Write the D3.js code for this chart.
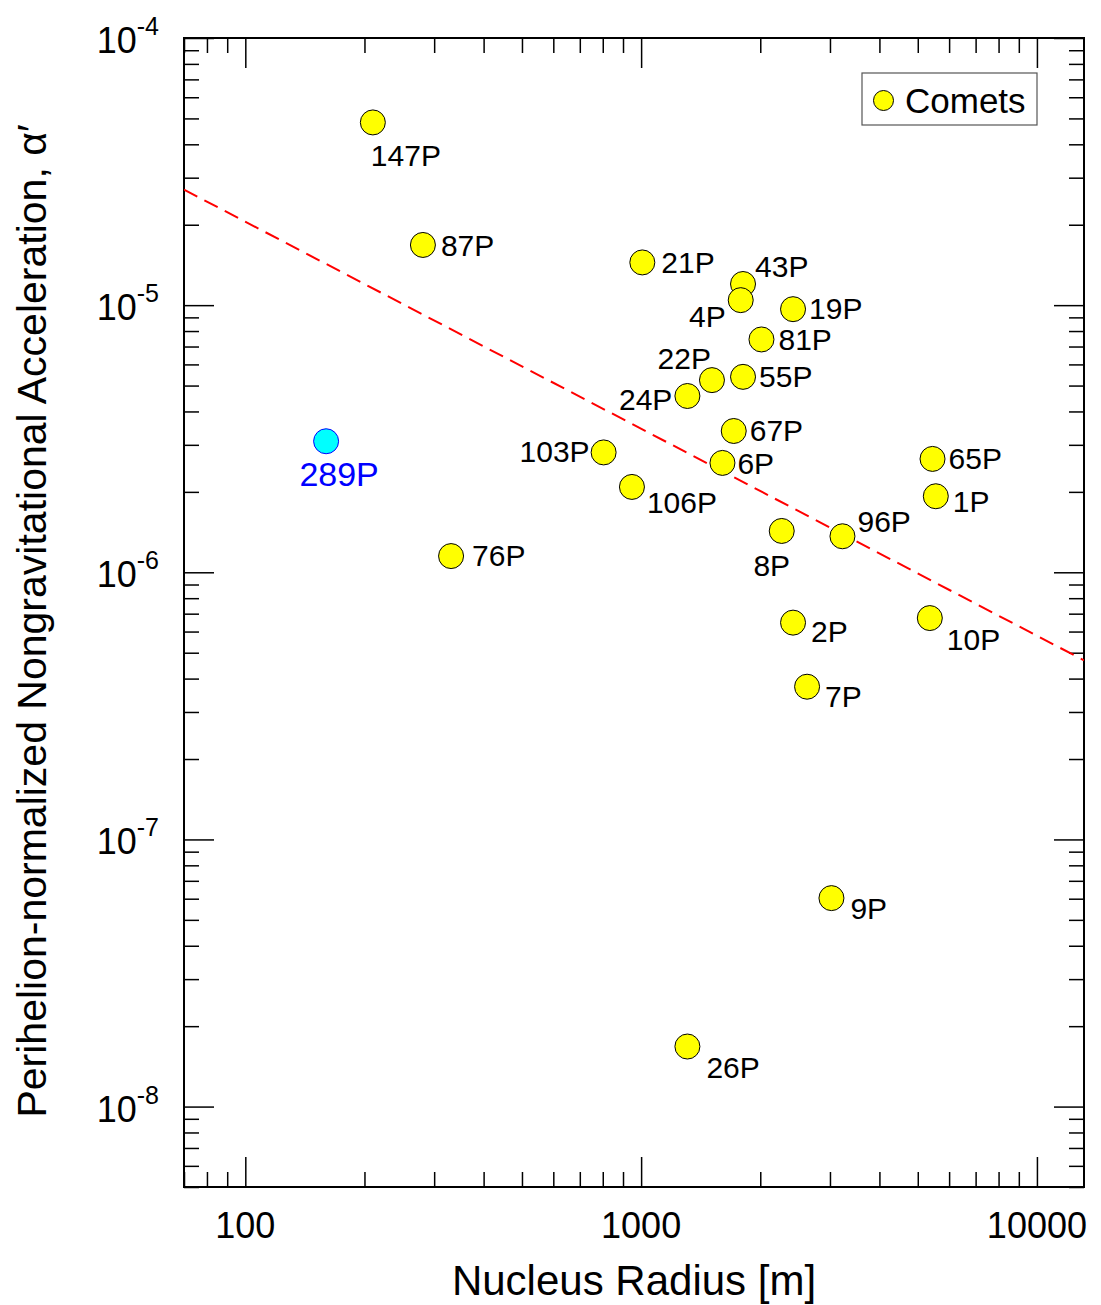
<!DOCTYPE html>
<html>
<head>
<meta charset="utf-8">
<script src="https://cdn.jsdelivr.net/npm/d3@7"></script>
<style>
body { margin: 0; background: #fff; }
text { font-family: "Liberation Sans", Arial, Helvetica, sans-serif; fill: #000; }
</style>
</head>
<body>
<svg id="chart"></svg>
<script>
var width = 1101, height = 1305;

// comets (yellow)
var cometNames  = ["147P", "87P", "76P", "21P", "43P", "4P", "19P", "81P", "22P", "55P", "24P", "67P",
                   "103P", "6P", "106P", "65P", "1P", "96P", "8P", "2P", "10P", "7P", "9P", "26P"];
var cometRadius = [210, 281, 331, 1007, 1809, 1785, 2420, 2014, 1510, 1809, 1309, 1714,
                   804, 1605, 948, 5448, 5553, 3226, 2266, 2420, 5363, 2626, 3026, 1309];
var cometAccel  = [4.83e-5, 1.68e-5, 1.15e-6, 1.445e-5, 1.20e-5, 1.044e-5, 9.66e-6, 7.44e-6, 5.24e-6, 5.39e-6, 4.57e-6, 3.38e-6,
                   2.81e-6, 2.567e-6, 2.087e-6, 2.657e-6, 1.926e-6, 1.364e-6, 1.428e-6, 6.48e-7, 6.74e-7, 3.73e-7, 6.03e-8, 1.678e-8];

// 289P (highlighted)
var specialNames  = ["289P"];
var specialRadius = [160];
var specialAccel  = [3.094e-6];

// power-law fit: alpha = fitAt1000 * (R / 1000) ^ fitSlope
var fitAt1000 = 3.447e-6, fitSlope = -0.775;

var xMajor = [100, 1000, 10000];
var yExponents = [-4, -5, -6, -7, -8];

// label placement [anchor, dx, dy]
var labelPos = {
  "147P": ["start", -2, 44], "87P": ["start", 18, 11], "76P": ["start", 21, 10],
  "21P": ["start", 19, 11], "43P": ["start", 12, -7], "4P": ["end", -15, 27],
  "19P": ["start", 16, 10], "81P": ["start", 17, 11], "22P": ["end", -1, -11],
  "55P": ["start", 16, 10], "24P": ["end", -15, 14], "67P": ["start", 16, 10],
  "103P": ["end", -14, 10], "6P": ["start", 15, 11], "106P": ["start", 15, 26],
  "65P": ["start", 16, 10], "1P": ["start", 17, 16], "96P": ["start", 15, -4],
  "8P": ["middle", -10, 45], "2P": ["start", 18, 19], "10P": ["start", 17, 32],
  "7P": ["start", 18, 20], "9P": ["start", 19, 21], "26P": ["start", 19, 31],
  "289P": ["middle", 13, 45]
};

var plotL = 184, plotR = 1084, plotT = 38, plotB = 1187;

var svg = d3.select("#chart")
  .attr("width", width)
  .attr("height", height);

var x = d3.scaleLog().domain([70, 13150]).range([plotL, plotR]);
var y = d3.scaleLog().domain([5e-9, 1e-4]).range([plotB, plotT]);

// minor tick values
var xMinor = [], yMinor = [];
for (var d = 1; d <= 4; d++) {
  for (var k = 2; k <= 9; k++) {
    var v = k * Math.pow(10, d);
    if (v >= 70 && v <= 13150) xMinor.push(v);
  }
}
for (var e = -9; e <= -5; e++) {
  for (var k = 2; k <= 9; k++) {
    var v = k * Math.pow(10, e);
    if (v >= 5e-9 && v <= 1e-4) yMinor.push(v);
  }
}

function drawTicks(axis, tx, ty) {
  var g = svg.append("g").attr("transform", "translate(" + tx + "," + ty + ")").call(axis);
  g.select(".domain").remove();
  g.selectAll("text").remove();
  g.selectAll("line").attr("stroke", "#000").attr("stroke-width", 1.5);
}

[[xMajor, 30], [xMinor, 15]].forEach(function(t) {
  drawTicks(d3.axisTop(x).tickValues(t[0]).tickSize(t[1]).tickFormat(""), 0, plotB);
  drawTicks(d3.axisBottom(x).tickValues(t[0]).tickSize(t[1]).tickFormat(""), 0, plotT);
});
var yMajor = yExponents.map(function(p) { return Math.pow(10, p); });
[[yMajor, 30], [yMinor, 15]].forEach(function(t) {
  drawTicks(d3.axisRight(y).tickValues(t[0]).tickSize(t[1]).tickFormat(""), plotL, 0);
  drawTicks(d3.axisLeft(y).tickValues(t[0]).tickSize(t[1]).tickFormat(""), plotR, 0);
});

// frame
svg.append("rect")
  .attr("x", plotL).attr("y", plotT)
  .attr("width", plotR - plotL).attr("height", plotB - plotT)
  .attr("fill", "none").attr("stroke", "#000").attr("stroke-width", 2);

// x tick labels
svg.selectAll(".xlab")
  .data(xMajor)
  .enter().append("text")
  .attr("class", "xlab")
  .attr("x", function(d) { return x(d); })
  .attr("y", plotB + 51)
  .attr("text-anchor", "middle")
  .style("font-size", "36px")
  .text(function(d) { return d; });

// y tick labels 10^n
var ylab = svg.selectAll(".ylab")
  .data(yExponents)
  .enter().append("text")
  .attr("class", "ylab")
  .attr("x", 159)
  .attr("y", function(p) { return y(Math.pow(10, p)) + 15; })
  .attr("text-anchor", "end");
ylab.append("tspan").style("font-size", "36px").text("10");
ylab.append("tspan").style("font-size", "25px").attr("dy", -18).text(function(p) { return p; });

// axis titles
svg.append("text")
  .attr("x", (plotL + plotR) / 2)
  .attr("y", 1295)
  .attr("text-anchor", "middle")
  .style("font-size", "42px")
  .text("Nucleus Radius [m]");

svg.append("text")
  .attr("transform", "translate(46," + 621 + ") rotate(-90)")
  .attr("text-anchor", "middle")
  .style("font-size", "41px")
  .text("Perihelion-normalized Nongravitational Acceleration, α′");

// clip
svg.append("clipPath").attr("id", "plotclip")
  .append("rect").attr("x", plotL).attr("y", plotT)
  .attr("width", plotR - plotL).attr("height", plotB - plotT);

// fit line
var fitLine = d3.line()
  .x(function(r) { return x(r); })
  .y(function(r) { return y(fitAt1000 * Math.pow(r / 1000, fitSlope)); });
svg.append("path")
  .datum(x.domain())
  .attr("clip-path", "url(#plotclip)")
  .attr("d", fitLine)
  .attr("fill", "none")
  .attr("stroke", "#ff0000")
  .attr("stroke-width", 2)
  .attr("stroke-dasharray", "15,8");

// data
var comets = cometNames.map(function(n, i) { return { name: n, r: cometRadius[i], a: cometAccel[i] }; });
var special = specialNames.map(function(n, i) { return { name: n, r: specialRadius[i], a: specialAccel[i] }; });

svg.selectAll(".comet")
  .data(comets)
  .enter().append("circle")
  .attr("class", "comet")
  .attr("cx", function(d) { return x(d.r); })
  .attr("cy", function(d) { return y(d.a); })
  .attr("r", 12.5)
  .attr("fill", "#ffff00")
  .attr("stroke", "#000")
  .attr("stroke-width", 1);

svg.selectAll(".clab")
  .data(comets)
  .enter().append("text")
  .attr("class", "clab")
  .attr("x", function(d) { return x(d.r) + labelPos[d.name][1]; })
  .attr("y", function(d) { return y(d.a) + labelPos[d.name][2]; })
  .attr("text-anchor", function(d) { return labelPos[d.name][0]; })
  .style("font-size", "30px")
  .text(function(d) { return d.name; });

svg.selectAll(".special")
  .data(special)
  .enter().append("circle")
  .attr("class", "special")
  .attr("cx", function(d) { return x(d.r); })
  .attr("cy", function(d) { return y(d.a); })
  .attr("r", 12.5)
  .attr("fill", "#00ffff")
  .attr("stroke", "#0000ff")
  .attr("stroke-width", 1);

svg.selectAll(".slab")
  .data(special)
  .enter().append("text")
  .attr("class", "slab")
  .attr("x", function(d) { return x(d.r) + labelPos[d.name][1]; })
  .attr("y", function(d) { return y(d.a) + labelPos[d.name][2]; })
  .attr("text-anchor", function(d) { return labelPos[d.name][0]; })
  .style("font-size", "34px")
  .style("fill", "#0000ff")
  .text(function(d) { return d.name; });

// legend
var lg = svg.append("g");
lg.append("rect")
  .attr("x", 862).attr("y", 73).attr("width", 175).attr("height", 52)
  .attr("fill", "#fff").attr("stroke", "#555").attr("stroke-width", 1.2);
lg.append("circle")
  .attr("cx", 883.5).attr("cy", 100.5).attr("r", 10)
  .attr("fill", "#ffff00").attr("stroke", "#000").attr("stroke-width", 1);
lg.append("text")
  .attr("x", 905).attr("y", 112.5)
  .style("font-size", "35px")
  .text("Comets");
</script>
</body>
</html>
